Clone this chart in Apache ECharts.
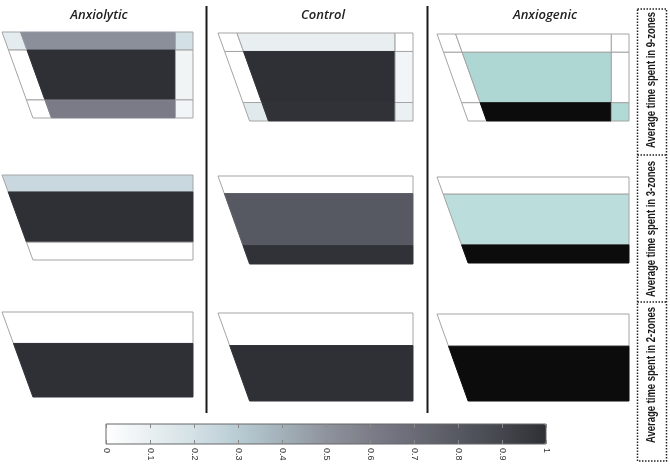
<!DOCTYPE html>
<html><head><meta charset="utf-8">
<script src="https://cdn.jsdelivr.net/npm/echarts@6/dist/echarts.min.js"></script>
<style>html,body{margin:0;padding:0;background:#fff}#c{width:670px;height:466px}</style>
</head><body><div id="c"></div>
<script>
// ---------------- data ----------------
const groups = ['Anxiolytic', 'Control', 'Anxiogenic'];
const zoneLabels = ['Average time spent in 9-zones', 'Average time spent in 3-zones', 'Average time spent in 2-zones'];

// 9 zones, row-major: top/middle/bottom rows x left/centre/right columns
const anxiolytic9 = [0.12, 0.52, 0.20, 0.00, 1.00, 0.07, 0.00, 0.61, 0.06];
const control9    = [0.00, 0.10, 0.00, 0.00, 1.00, 0.06, 0.14, 0.99, 0.09];
const anxiogenic9 = [0.00, 0.00, 0.00, 0.00, 0.50, 0.00, 0.00, 1.00, 0.48];
// 3 zones: top / middle / bottom
const anxiolytic3 = [0.24, 1.00, 0.00];
const control3    = [0.00, 0.80, 0.99];
const anxiogenic3 = [0.00, 0.42, 1.00];
// 2 zones: top / bottom
const anxiolytic2 = [0.00, 1.00];
const control2    = [0.00, 1.00];
const anxiogenic2 = [0.00, 1.00];

// colour scales
const mainColors = ['#ffffff', '#e9eff1', '#d3e0e5', '#b9ccd3', '#a3b1b9', '#8f939d', '#7c7d88', '#6a6b76', '#575962', '#44464d', '#2e3035'];
const anxiogenicColors = ['#ffffff', '#aed7d4', '#0c0c0c'];

// ---------------- layout ----------------
const SKEW = 0.162;
const rowEdges9 = [0, 0.21, 0.79, 1];
const rowEdges3 = [0, 0.2, 0.79, 1];
const rowEdges2 = [0, 0.37, 1];
const colEdges3 = [0, 0.097, 0.908, 1], colSkew3 = [true, true, false, false];
const colEdges1 = [0, 1], colSkew1 = [true, false];

const panelBoxes = [
  [2, 32, 191, 86], [218, 33, 195, 88], [437, 34, 192, 87],
  [2, 175, 191, 85], [218, 176, 195, 88], [437, 177, 192, 86],
  [2, 312, 191, 85], [218, 313, 195, 88], [437, 314, 192, 87]
];

const panels = [
  {vals: anxiolytic9, rows: rowEdges9, cols: colEdges3, sk: colSkew3},
  {vals: control9, rows: rowEdges9, cols: colEdges3, sk: colSkew3},
  {vals: anxiogenic9, rows: rowEdges9, cols: colEdges3, sk: colSkew3},
  {vals: anxiolytic3, rows: rowEdges3, cols: colEdges1, sk: colSkew1},
  {vals: control3, rows: rowEdges3, cols: colEdges1, sk: colSkew1},
  {vals: anxiogenic3, rows: rowEdges3, cols: colEdges1, sk: colSkew1},
  {vals: anxiolytic2, rows: rowEdges2, cols: colEdges1, sk: colSkew1},
  {vals: control2, rows: rowEdges2, cols: colEdges1, sk: colSkew1},
  {vals: anxiogenic2, rows: rowEdges2, cols: colEdges1, sk: colSkew1}
];

const EDGE = '#a5a5a5';
function lum(c) {
  const a = echarts.color.parse(c);
  return 0.299 * a[0] + 0.587 * a[1] + 0.114 * a[2];
}
function makeRender(p) {
  return function (params, api) {
    const c = api.value(0), r = api.value(1);
    const y0 = p.rows[r], y1 = p.rows[r + 1];
    const ex = (i, y) => p.cols[i] + (p.sk[i] ? SKEW * y : 0);
    const pts = [[ex(c, y0), y0], [ex(c + 1, y0), y0], [ex(c + 1, y1), y1], [ex(c, y1), y1]].map(q => api.coord(q));
    const fill = api.visual('color');
    const stroke = lum(fill) < lum(EDGE) ? echarts.color.lift(fill, -0.06) : EDGE;
    return {type: 'polygon', shape: {points: pts},
      style: {fill: fill, stroke: stroke, lineWidth: 1}};
  };
}

const grids = [], xAxes = [], yAxes = [], series = [];
panels.forEach((p, k) => {
  const b = panelBoxes[k];
  grids.push({left: b[0], top: b[1], width: b[2], height: b[3], show: false});
  xAxes.push({gridIndex: k, type: 'value', min: 0, max: 1, show: false});
  yAxes.push({gridIndex: k, type: 'value', min: 0, max: 1, inverse: true, show: false});
  const nc = p.cols.length - 1;
  series.push({
    type: 'custom', xAxisIndex: k, yAxisIndex: k, silent: true,
    dimensions: ['col', 'row', 'value'],
    renderItem: makeRender(p),
    data: p.vals.map((v, i) => [i % nc, Math.floor(i / nc), v])
  });
});

// colour bar axes
const CB = {left: 106, top: 424, width: 440, height: 20};
grids.push({left: CB.left, top: CB.top, width: CB.width, height: CB.height, show: true,
  borderColor: '#666', borderWidth: 1, backgroundColor: 'transparent', z: 10});
xAxes.push({gridIndex: 9, type: 'value', min: 0, max: 1, interval: 0.1, position: 'bottom', z: 10,
  axisLine: {show: false}, splitLine: {show: false},
  axisTick: {show: true, inside: true, length: 4, lineStyle: {color: '#888'}},
  axisLabel: {rotate: -90, fontSize: 9, color: '#333', margin: 4, fontFamily: 'Liberation Sans'}});
xAxes.push({gridIndex: 9, type: 'value', min: 0, max: 1, interval: 0.1, position: 'top', z: 10,
  axisLine: {show: false}, splitLine: {show: false}, axisLabel: {show: false},
  axisTick: {show: true, inside: true, length: 4, lineStyle: {color: '#888'}}});
yAxes.push({gridIndex: 9, type: 'value', min: 0, max: 1, show: false});

const graphics = [];
const titleX = [99, 323, 545];
groups.forEach((g, i) => graphics.push({type: 'text', x: titleX[i], y: 15,
  style: {text: g, align: 'center', verticalAlign: 'middle', fill: '#222',
    font: 'italic 600 13px "Open Sans"'}}));
[206.5, 427.5].forEach(x => graphics.push({type: 'line', shape: {x1: x, y1: 6, x2: x, y2: 413},
  style: {stroke: '#1a1a1a', lineWidth: 2}}));
graphics.push({type: 'rect', shape: {x: 637.5, y: 9, width: 29, height: 452},
  style: {fill: 'none', stroke: '#222', lineWidth: 1.5, lineDash: [1.5, 1.5]}});
[155, 302].forEach(y => graphics.push({type: 'line', shape: {x1: 637.5, y1: y, x2: 666.5, y2: y},
  style: {stroke: '#222', lineWidth: 1.5, lineDash: [1.5, 1.5]}}));
zoneLabels.forEach((t, i) => graphics.push({type: 'text', x: 652, y: [80, 229, 375][i],
  rotation: Math.PI / 2, scaleX: 0.79,
  style: {text: t, align: 'center', verticalAlign: 'middle', fill: '#1a1a1a',
    font: 'bold 12px "Liberation Sans"'}}));

const chart = echarts.init(document.getElementById('c'), null, {renderer: 'canvas'});
chart.setOption({
  animation: false,
  backgroundColor: '#fff',
  grid: grids, xAxis: xAxes, yAxis: yAxes, series: series,
  visualMap: [
    {type: 'continuous', seriesIndex: [0, 1, 3, 4, 6, 7], dimension: 2, min: 0, max: 1,
      inRange: {color: mainColors}, orient: 'horizontal', left: CB.left, top: CB.top,
      itemWidth: CB.height, itemHeight: CB.width, padding: 0, calculable: false, text: null,
      showLabel: false, hoverLink: false},
    {type: 'continuous', seriesIndex: [2, 5, 8], dimension: 2, min: 0, max: 1, show: false,
      inRange: {color: anxiogenicColors}}
  ],
  graphic: graphics
});
</script></body></html>
